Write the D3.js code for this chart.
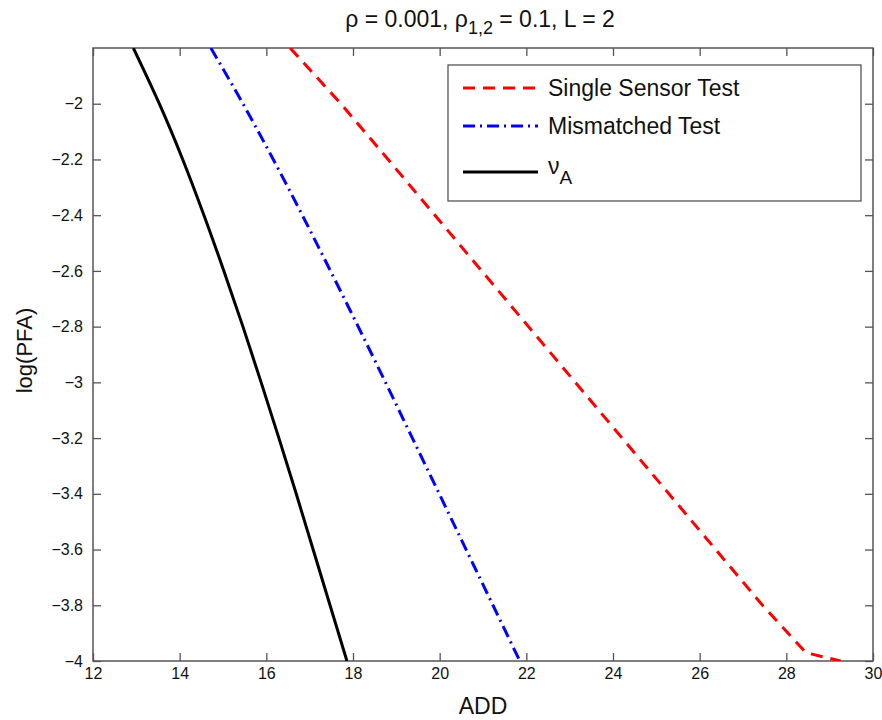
<!DOCTYPE html>
<html lang="en">
<head>
<meta charset="UTF-8">
<title>log(PFA) vs ADD</title>
<script src="https://cdnjs.cloudflare.com/ajax/libs/d3/7.9.0/d3.min.js"></script>
<style>
  body { margin: 0; background: #fff; }
  svg text { font-family: "Liberation Sans", Arial, Helvetica, sans-serif; fill: #111; }
</style>
</head>
<body>
<div id="chart"></div>
<script>
// log(PFA) levels where the curves were read
const pfaLevels = [-1.8, -2.0, -2.2, -2.4, -2.6, -2.8, -3.0, -3.2, -3.4, -3.6, -3.8, -4.0];
// ADD for each curve at those levels
const singleSensorADD = [16.55, 17.72, 18.81, 19.89, 20.97, 22.05, 23.13, 24.21, 25.29, 26.37, 27.45, 29.25];
const mismatchedADD   = [14.72, 15.46, 16.16, 16.83, 17.48, 18.12, 18.75, 19.37, 19.99, 20.61, 21.23, 21.85];
const nuADD           = [12.93, 13.53, 14.07, 14.56, 15.02, 15.46, 15.88, 16.29, 16.69, 17.08, 17.47, 17.86];
// extra read-off point where the red curve bends just above the axis
const singleSensorBend = { pfa: -3.97, add: 28.45 };

const xTicks = [12, 14, 16, 18, 20, 22, 24, 26, 28, 30];
const yTicks = [-2, -2.2, -2.4, -2.6, -2.8, -3, -3.2, -3.4, -3.6, -3.8, -4];

const width = 882, height = 720;
const margin = { top: 48, right: 9, bottom: 59, left: 93 };
const w = width - margin.left - margin.right;
const h = height - margin.top - margin.bottom;

const svg = d3.select('#chart').append('svg')
  .attr('width', width)
  .attr('height', height);

const g = svg.append('g')
  .attr('transform', `translate(${margin.left},${margin.top})`);

const x = d3.scaleLinear().domain([12, 30]).range([0, w]);
const y = d3.scaleLinear().domain([-4, -1.8]).range([h, 0]);

const fmt = d => String(d).replace('-', '\u2212');
const tickLen = 8;

// axes: ticks point inward on all four sides
const bottomAxis = g.append('g')
  .attr('transform', `translate(0,${h})`)
  .call(d3.axisBottom(x).tickValues(xTicks).tickSizeInner(-tickLen).tickSizeOuter(0).tickPadding(7).tickFormat(d => d));
const topAxis = g.append('g')
  .call(d3.axisTop(x).tickValues(xTicks).tickSizeInner(-tickLen).tickSizeOuter(0).tickFormat(''));
const leftAxis = g.append('g')
  .call(d3.axisLeft(y).tickValues(yTicks).tickSizeInner(-tickLen).tickSizeOuter(0).tickPadding(10).tickFormat(fmt));
const rightAxis = g.append('g')
  .attr('transform', `translate(${w},0)`)
  .call(d3.axisRight(y).tickValues(yTicks).tickSizeInner(-tickLen).tickSizeOuter(0).tickFormat(''));

[bottomAxis, topAxis, leftAxis, rightAxis].forEach(a => {
  a.select('.domain').remove();
  a.selectAll('.tick line').attr('stroke', '#555').attr('stroke-width', 1.3);
  a.selectAll('.tick text').style('font-size', '16px').attr('fill', '#111');
});

g.append('rect')
  .attr('width', w).attr('height', h)
  .attr('fill', 'none')
  .attr('stroke', '#555')
  .attr('stroke-width', 1.5);

// curves
const smoothLine = d3.line()
  .x(d => x(d.add))
  .y(d => y(d.pfa))
  .curve(d3.curveMonotoneY);
const straightLine = d3.line()
  .x(d => x(d.add))
  .y(d => y(d.pfa));

const toPoints = arr => arr.map((v, i) => ({ pfa: pfaLevels[i], add: v }));

const redPts = toPoints(singleSensorADD);
redPts.splice(redPts.length - 1, 0, singleSensorBend);

const series = [
  { name: 'Single Sensor Test', pts: redPts, color: '#ff0000', dash: '12,8', gen: straightLine },
  { name: 'Mismatched Test', pts: toPoints(mismatchedADD), color: '#0000ff', dash: '12,5,2,5', gen: smoothLine },
  { name: 'nu', pts: toPoints(nuADD), color: '#000000', dash: null, gen: smoothLine }
];

svg.append('clipPath').attr('id', 'plotclip')
  .append('rect').attr('width', w).attr('height', h);

const lines = g.append('g').attr('clip-path', 'url(#plotclip)');
series.forEach(s => {
  lines.append('path')
    .datum(s.pts)
    .attr('d', s.gen)
    .attr('fill', 'none')
    .attr('stroke', s.color)
    .attr('stroke-width', 3)
    .attr('stroke-dasharray', s.dash);
});

// legend
const legend = svg.append('g').attr('transform', 'translate(448,65)');
legend.append('rect')
  .attr('width', 413).attr('height', 136)
  .attr('fill', '#fff')
  .attr('stroke', '#555')
  .attr('stroke-width', 1.3);

const legendY = [23, 61, 107];
series.forEach((s, i) => {
  legend.append('line')
    .attr('x1', 15).attr('x2', 90)
    .attr('y1', legendY[i]).attr('y2', legendY[i])
    .attr('stroke', s.color)
    .attr('stroke-width', 3)
    .attr('stroke-dasharray', s.dash);
});
legend.append('text').attr('x', 100).attr('y', legendY[0] + 8).style('font-size', '23px').text('Single Sensor Test');
legend.append('text').attr('x', 100).attr('y', legendY[1] + 8).style('font-size', '23px').text('Mismatched Test');
const nu = legend.append('text').attr('x', 100).attr('y', legendY[2] + 2).style('font-size', '23px');
nu.append('tspan').text('\u03bd');
nu.append('tspan').attr('dy', 10).style('font-size', '19px').text('A');

// title
const title = svg.append('text')
  .attr('x', margin.left + w / 2 - 3)
  .attr('y', 27)
  .attr('text-anchor', 'middle')
  .style('font-size', '23px');
title.append('tspan').text('\u03c1 = 0.001, \u03c1');
title.append('tspan').attr('dy', 7).style('font-size', '18px').text('1,2');
title.append('tspan').attr('dy', -7).text(' = 0.1, L = 2');

// axis labels
svg.append('text')
  .attr('x', margin.left + w / 2)
  .attr('y', 714)
  .attr('text-anchor', 'middle')
  .style('font-size', '23px')
  .text('ADD');

svg.append('text')
  .attr('transform', `translate(32,${margin.top + h / 2 - 4}) rotate(-90)`)
  .attr('text-anchor', 'middle')
  .style('font-size', '22px')
  .text('log(PFA)');
</script>
</body>
</html>
